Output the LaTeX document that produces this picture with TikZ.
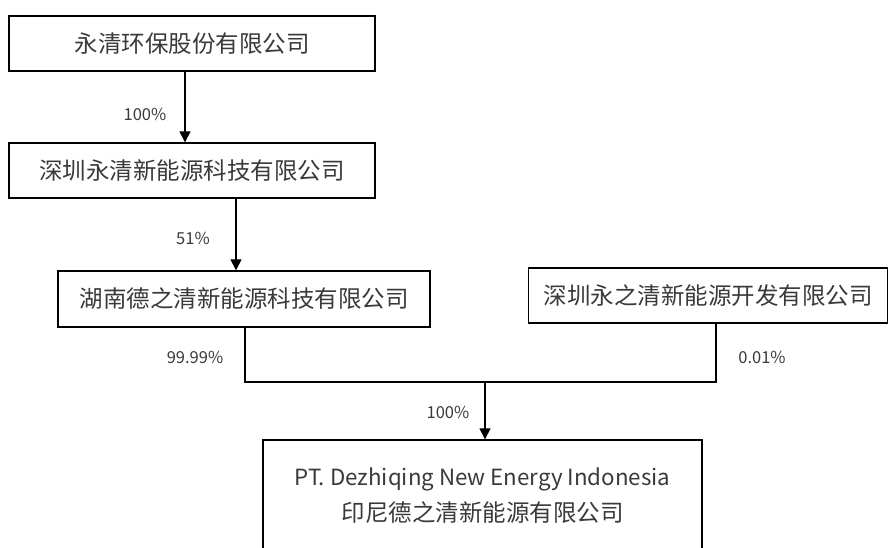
\documentclass[tikz,border=0pt]{standalone}
\usepackage{fontspec}
\setmainfont{Noto Sans CJK SC}
\usetikzlibrary{arrows.meta}
\definecolor{txt}{HTML}{3A3A3A}
\tikzset{
  box/.style={draw=black, line width=1.3pt, fill=white, inner sep=0pt, align=center,
    text=txt, font=\fontsize{23.5}{36}\selectfont},
  lbl/.style={text=txt, font=\fontsize{16.5}{18}\selectfont, inner sep=0pt},
  conn/.style={draw=black, line width=1.1pt},
  arr/.style={conn, -{Triangle[width=11pt,length=11pt]}}
}
\begin{document}
\begin{tikzpicture}[x=1pt,y=-1pt]
\useasboundingbox (0,0) rectangle (889,548);
\clip (0,0) rectangle (889,548);
\node[box, minimum width=366pt, minimum height=55pt] (b1) at (192,43.5) {永清环保股份有限公司};
\node[box, minimum width=366pt, minimum height=55pt] (b2) at (192,170.5) {深圳永清新能源科技有限公司};
\node[box, minimum width=372pt, minimum height=56pt] (b3) at (244,299) {湖南德之清新能源科技有限公司};
\node[box, minimum width=359pt, minimum height=55pt] (b4) at (708,295.5) {深圳永之清新能源开发有限公司};
\node[box, minimum width=439pt, minimum height=112pt] (b5) at (482.5,496) {{\fontsize{22.3}{36}\selectfont PT. Dezhiqing New Energy Indonesia}\\印尼德之清新能源有限公司};
\coordinate (j) at (485,382);
\draw[arr] ([xshift=-7pt]b1.south) -- ([xshift=-7pt]b2.north);
\draw[arr] ([xshift=44pt]b2.south) -- ([xshift=-8pt]b3.north);
\draw[conn] ([xshift=1pt]b3.south) -- ([xshift=1pt]b3.south |- j) -- ([xshift=8pt]b4.south |- j) -- ([xshift=8pt]b4.south);
\draw[arr] (j) -- (j |- b5.north);
\node[lbl] (l1) at (145,114) {100\%};
\node[lbl] (l2) at (193,238) {51\%};
\node[lbl] (l3) at (195,357) {99.99\%};
\node[lbl] (l4) at (762,357) {0.01\%};
\node[lbl] (l5) at (448,412) {100\%};
\end{tikzpicture}
\end{document}
